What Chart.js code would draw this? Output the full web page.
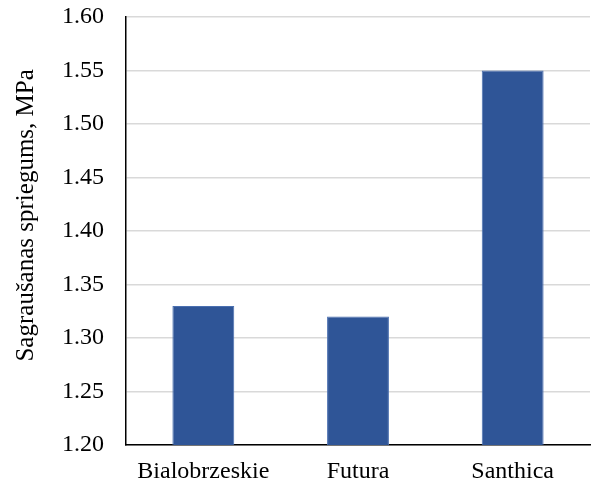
<!DOCTYPE html>
<html>
<head>
<meta charset="utf-8">
<script src="https://cdn.jsdelivr.net/npm/chart.js@4/dist/chart.umd.min.js"></script>
<style>
  html, body { margin: 0; padding: 0; background: #fff; }
  #wrap { width: 592px; height: 485px; }
</style>
</head>
<body>
<div id="wrap"><canvas id="c" width="592" height="485"></canvas></div>
<script>
// Shear stress per hemp variety
const categories = ['Bialobrzeskie', 'Futura', 'Santhica'];
const stressValues = [1.33, 1.32, 1.55];
const yTitle = 'Sagraušanas spriegums, MPa';

const serif = "'Liberation Serif', 'Times New Roman', serif";
const fontSize = 24;

new Chart(document.getElementById('c'), {
  type: 'bar',
  data: {
    labels: categories,
    datasets: [{
      data: stressValues,
      backgroundColor: '#2F5597',
      borderColor: '#4A6FB0',
      borderWidth: 1,
      barPercentage: 0.4,
      categoryPercentage: 1.0
    }]
  },
  options: {
    responsive: false,
    animation: false,
    layout: { padding: { top: 17, right: 2, left: 0, bottom: 0 } },
    plugins: { legend: { display: false }, tooltip: { enabled: false } },
    scales: {
      x: {
        grid: { display: false },
        border: { display: true, color: '#000', width: 1.5 },
        ticks: { color: '#000', font: { family: serif, size: fontSize }, padding: 4 },
        afterFit: (s) => { s.height = 40; s.paddingLeft = 0; s.paddingRight = 0; }
      },
      y: {
        min: 1.2,
        max: 1.6,
        grid: { color: '#d9d9d9', lineWidth: 1.5, drawTicks: false },
        border: { display: true, color: '#000', width: 1.5 },
        ticks: {
          stepSize: 0.05,
          color: '#000',
          padding: 22,
          font: { family: serif, size: fontSize },
          callback: (v) => Number(v).toFixed(2)
        },
        title: {
          display: true,
          // leading non-breaking spaces nudge the title slightly above centre
          text: '\u00a0'.repeat(5) + yTitle,
          color: '#000',
          font: { family: serif, size: 25 },
          padding: { top: 11, bottom: 0 }
        },
        afterFit: (s) => { s.width = 126; s.paddingTop = 0; s.paddingBottom = 0; }
      }
    }
  }
});
</script>
</body>
</html>
